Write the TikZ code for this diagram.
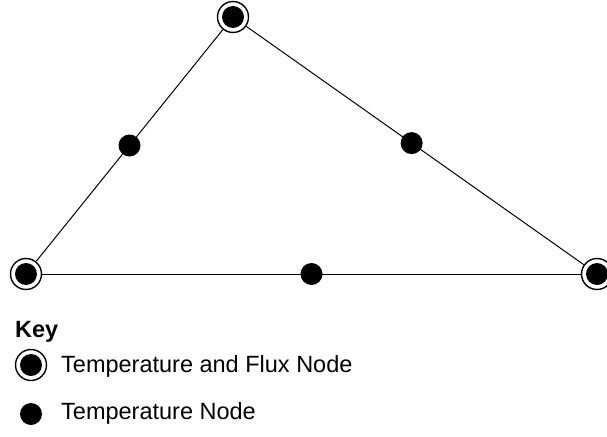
\documentclass[tikz,border=0pt]{standalone}
\usepackage{fontspec}
\setmainfont{Liberation Sans}
\usetikzlibrary{positioning}
\tikzset{
  tfnode/.style={circle, draw=black, line width=1.4pt, fill=white, minimum size=31pt, inner sep=0pt,
    path picture={\fill[black] (path picture bounding box.center) circle (11pt);}},
  tnode/.style={circle, fill=black, minimum size=22pt, inner sep=0pt},
  side/.style={draw=black, line width=1pt},
  keytxt/.style={font=\fontsize{23.5}{28}\selectfont, anchor=base west, inner sep=0pt}
}

\begin{document}
\begin{tikzpicture}[x=1pt, y=-1pt]
  \useasboundingbox (0,0) rectangle (607,436);
  % triangle
  \node[tfnode] (top) at (233,17) {};
  \node[tfnode] (left) at (26,274) {};
  \node[tfnode] (right) at (597,274) {};
  \draw[side] (top) -- node[tnode, pos=0.5] (midl) {} (left);
  \draw[side] (top) -- node[tnode, pos=0.49] (midr) {} (right);
  \draw[side] (left) -- node[tnode, pos=0.5] (midb) {} (right);

  % key
  \node[keytxt, font=\fontsize{23.5}{28}\selectfont\bfseries] (key) at (15,337) {Key};
  \node[tfnode] (keytf) at (31,365) {};
  \node[keytxt] (keytftxt) at (61,372) {Temperature and Flux Node};
  \node[tnode] (keyt) at (31,414) {};
  \node[keytxt] (keyttxt) at (61,419) {Temperature Node};
\end{tikzpicture}
\end{document}
